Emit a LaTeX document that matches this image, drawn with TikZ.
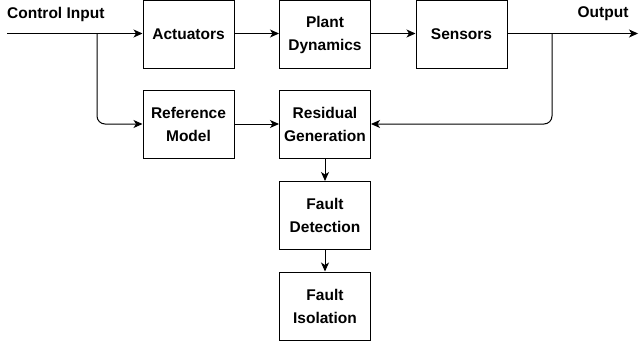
\documentclass[tikz,border=0pt]{standalone}
\usepackage{fontspec}
\setmainfont{Liberation Sans}
\usetikzlibrary{arrows.meta}
\begin{document}
\begin{tikzpicture}[x=1pt,y=-1pt,
  blk/.style={draw, line width=1pt, minimum width=91pt, minimum height=68pt, inner sep=0pt, align=center, font=\fontsize{15.5}{23}\selectfont\bfseries},
  lbl/.style={font=\fontsize{15.5}{18}\selectfont\bfseries, inner sep=0pt},
  conn/.style={line width=1pt, -{Stealth[length=9pt,width=8pt,inset=2.5pt]}},
  rc/.style={rounded corners=8pt}]
\useasboundingbox (0,0) rectangle (639,345);
\node[blk] (act) at (188.5,34.5) {Actuators};
\node[blk] (plant) at (325,34.5) {Plant\\Dynamics};
\node[blk] (sens) at (461.5,34.5) {Sensors};
\node[blk] (ref) at (188.5,124) {Reference\\Model};
\node[blk] (res) at (325,124) {Residual\\Generation};
\node[blk] (det) at (325,215.5) {Fault\\Detection};
\node[blk] (iso) at (325,306) {Fault\\Isolation};
\node[lbl, anchor=west] (cin) at (7,14) {Control Input};
\node[lbl] (outl) at (603,14) {Output};
\coordinate (start) at (7,33.5);
\coordinate (end) at (638,33.5);
\coordinate (bl) at (97,33.5);
\coordinate (br) at (552,33.5);
\draw[conn] (start) -- (act.west |- start);
\draw[conn, rc] (bl) |- (ref.west);
\draw[conn] (act.east |- start) -- (plant.west |- start);
\draw[conn] (plant.east |- start) -- (sens.west |- start);
\draw[conn] (sens.east |- start) -- (end);
\draw[conn, rc] (br) |- (res.east);
\draw[conn] (ref.east) -- (res.west);
\draw[conn] (res.south) -- (det.north);
\draw[conn] (det.south) -- (iso.north);
\end{tikzpicture}
\end{document}
